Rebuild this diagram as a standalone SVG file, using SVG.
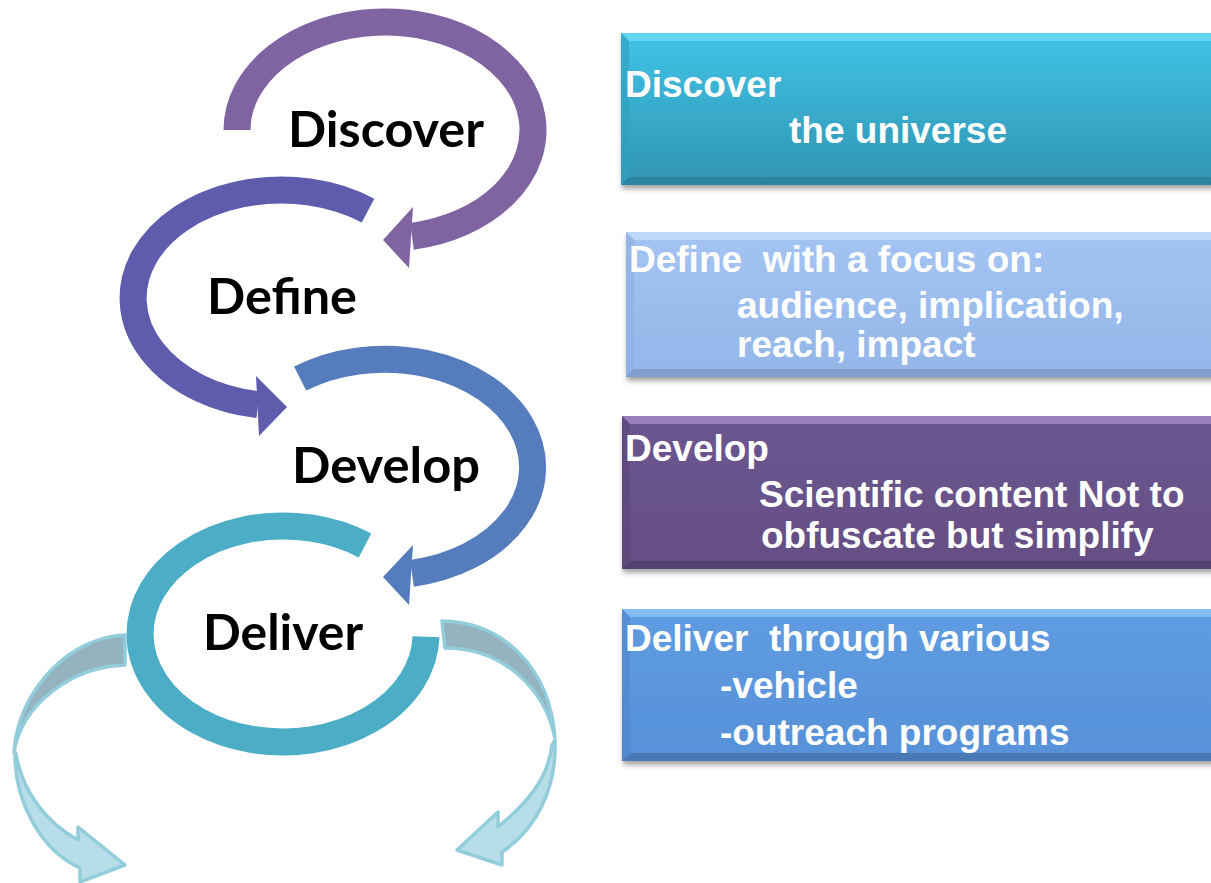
<svg xmlns="http://www.w3.org/2000/svg" width="1211" height="883" viewBox="0 0 1211 883">
  <style>
    .ring { fill: none; stroke-width: 27; stroke-linecap: butt; }
    .label { font-family: Lato, "Open Sans", sans-serif; font-weight: 700; font-size: 50px; fill: #000; }
    .btxt { font-family: "Liberation Sans", Arial, sans-serif; font-weight: 700; font-size: 37px; fill: #fff; white-space: pre; }
    .out-top { fill: #94B3BE; stroke: #92CDDC; stroke-width: 3.5; stroke-linejoin: round; }
    .out-bot { fill: #B7DDE8; stroke: #92CDDC; stroke-width: 3.5; stroke-linejoin: round; }
  </style>
  <defs>
    <filter id="shadow" x="-5%" y="-10%" width="110%" height="130%">
      <feDropShadow dx="1" dy="4" stdDeviation="2.5" flood-color="#000" flood-opacity="0.35"/>
    </filter>
    <linearGradient id="g1" x1="0" y1="0" x2="0" y2="1">
      <stop offset="0" stop-color="#41C3E7"/>
      <stop offset="1" stop-color="#2F95B1"/>
    </linearGradient>
    <linearGradient id="g2" x1="0" y1="0" x2="0" y2="1">
      <stop offset="0" stop-color="#A3C4F3"/>
      <stop offset="1" stop-color="#94B6E8"/>
    </linearGradient>
    <linearGradient id="g3" x1="0" y1="0" x2="0" y2="1">
      <stop offset="0" stop-color="#6B5590"/>
      <stop offset="1" stop-color="#654F84"/>
    </linearGradient>
    <linearGradient id="g4" x1="0" y1="0" x2="0" y2="1">
      <stop offset="0" stop-color="#5F9CE1"/>
      <stop offset="1" stop-color="#5791D8"/>
    </linearGradient>
  </defs>

  <rect width="1211" height="883" fill="#fff"/>

  <!-- cycle rings with arrowheads -->
  <g id="connectors">
    <g id="ring-discover">
      <path class="ring" stroke="#8064A2" d="M 237 130 A 148 108 0 1 1 412 236.3"/>
      <polygon fill="#8064A2" points="413,207 383,240 409,268"/>
    </g>
    <g id="ring-define">
      <path class="ring" stroke="#5F5BAD" d="M 368 210.6 A 148 108 0 1 0 258 404.7"/>
      <polygon fill="#5F5BAD" points="256,376 287,407 259,436"/>
    </g>
    <g id="ring-develop">
      <path class="ring" stroke="#557CBD" d="M 300.1 378.5 A 148 108 0 1 1 412 573.3"/>
      <polygon fill="#557CBD" points="413,545 383,577 409,605"/>
    </g>
    <g id="ring-deliver">
      <path class="ring" stroke="#4BADC6" d="M 365 545.5 A 143 108 0 1 0 426 636.8"/>
    </g>

    <!-- outgoing ribbon arrows -->
    <g id="out-left">
      <path class="out-top" d="M 125 635 C 70 637, 18 690, 14 752 C 22 705, 70 667, 125 665 Z"/>
      <path class="out-bot" d="M 15 752 C 14 800, 40 850, 80 868 L 80 882 L 125 865 L 78 827 L 78 840 C 45 822, 22 790, 16 754 Z"/>
    </g>
    <g id="out-right">
      <path class="out-top" d="M 442 621 C 505 622, 550 670, 555 738 C 545 690, 505 648, 445 648 Z"/>
      <path class="out-bot" d="M 555 740 C 557 790, 535 830, 502 852 L 502 865 L 457 850 L 498 812 L 498 827 C 525 805, 548 780, 552 745 Z"/>
    </g>
  </g>

  <!-- stage labels -->
  <g id="node-discover"><text class="label" x="288" y="147" textLength="196" lengthAdjust="spacingAndGlyphs">Discover</text></g>
  <g id="node-define"><text class="label" x="207" y="314" textLength="150" lengthAdjust="spacingAndGlyphs">Define</text></g>
  <g id="node-develop"><text class="label" x="292" y="483" textLength="188" lengthAdjust="spacingAndGlyphs">Develop</text></g>
  <g id="node-deliver"><text class="label" x="203" y="650" textLength="160" lengthAdjust="spacingAndGlyphs">Deliver</text></g>

  <!-- description panels -->
  <g id="box-discover">
    <rect x="621" y="33" width="600" height="152" fill="url(#g1)" filter="url(#shadow)"/>
    <polygon points="621,33 1211,33 1211,41 629,41" fill="#6FDDF6" opacity="0.7"/>
    <polygon points="621,33 629,41 629,177 621,185" fill="#2FA0C0" opacity="0.6"/>
    <polygon points="621,185 629,177 1211,177 1211,185" fill="#2A7F98" opacity="0.7"/>
    <text class="btxt" x="625" y="97">Discover</text>
    <text class="btxt" x="789" y="143">the universe</text>
  </g>
  <g id="box-define">
    <rect x="626" y="232" width="600" height="145" fill="url(#g2)" filter="url(#shadow)"/>
    <polygon points="626,232 1211,232 1211,240 634,240" fill="#C5DCFA" opacity="0.8"/>
    <polygon points="626,232 634,240 634,369 626,377" fill="#8DAEDF" opacity="0.6"/>
    <polygon points="626,377 634,369 1211,369 1211,377" fill="#7693C2" opacity="0.7"/>
    <text class="btxt" x="629" y="272">Define  with a focus on:</text>
    <text class="btxt" x="737" y="318">audience, implication,</text>
    <text class="btxt" x="737" y="357">reach, impact</text>
  </g>
  <g id="box-develop">
    <rect x="622" y="416" width="600" height="153" fill="url(#g3)" filter="url(#shadow)"/>
    <polygon points="622,416 1211,416 1211,424 630,424" fill="#A68CC6" opacity="0.8"/>
    <polygon points="622,416 630,424 630,561 622,569" fill="#5A4577" opacity="0.6"/>
    <polygon points="622,569 630,561 1211,561 1211,569" fill="#4E3C68" opacity="0.7"/>
    <text class="btxt" x="625" y="461">Develop</text>
    <text class="btxt" x="759" y="507">Scientific content Not to</text>
    <text class="btxt" x="761" y="548">obfuscate but simplify</text>
  </g>
  <g id="box-deliver">
    <rect x="622" y="609" width="600" height="152" fill="url(#g4)" filter="url(#shadow)"/>
    <polygon points="622,609 1211,609 1211,617 630,617" fill="#8CC6F6" opacity="0.8"/>
    <polygon points="622,609 630,617 630,753 622,761" fill="#4F86C8" opacity="0.6"/>
    <polygon points="622,761 630,753 1211,753 1211,761" fill="#456FA8" opacity="0.7"/>
    <text class="btxt" x="625" y="651">Deliver  through various</text>
    <text class="btxt" x="720" y="698">-vehicle</text>
    <text class="btxt" x="720" y="745">-outreach programs</text>
  </g>
</svg>
